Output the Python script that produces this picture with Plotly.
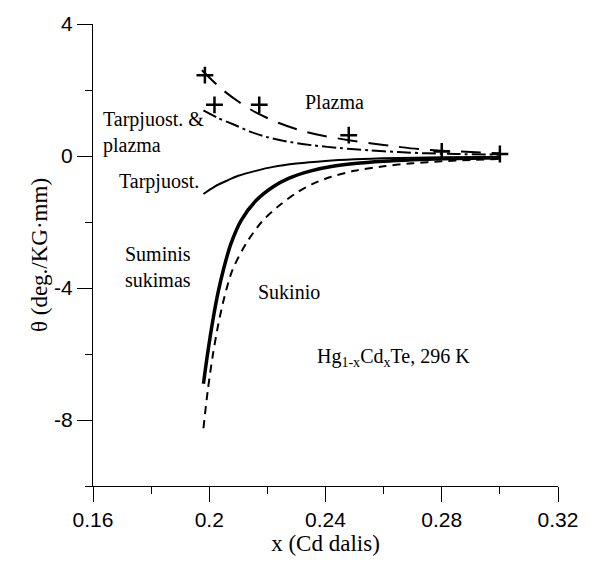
import plotly.graph_objects as go

# Faraday rotation components in Hg(1-x)Cd(x)Te at 296 K versus Cd fraction x
x_total = [0.198, 0.1995, 0.2012, 0.203, 0.205, 0.2075, 0.211, 0.2161, 0.222, 0.2275,
           0.235, 0.242, 0.25, 0.26, 0.27, 0.28, 0.29, 0.30]
theta_total = [-6.9, -5.95, -5.0, -4.15, -3.4, -2.65, -1.95, -1.35, -0.93, -0.67,
               -0.45, -0.32, -0.23, -0.16, -0.115, -0.085, -0.065, -0.05]

x_spin = [0.198, 0.1995, 0.2012, 0.203, 0.205, 0.208, 0.2127, 0.218, 0.2241, 0.2303,
          0.236, 0.242, 0.25, 0.26, 0.27, 0.28, 0.29, 0.30]
theta_spin = [-8.25, -7.1, -6.05, -5.15, -4.35, -3.45, -2.65, -2.0, -1.5, -1.1,
              -0.83, -0.63, -0.45, -0.31, -0.22, -0.16, -0.12, -0.09]

x_inter = [0.198, 0.202, 0.206, 0.210, 0.216, 0.222, 0.23, 0.24, 0.25, 0.26, 0.28, 0.30]
theta_inter = [-1.15, -0.92, -0.75, -0.6, -0.45, -0.33, -0.23, -0.15, -0.1, -0.07, -0.04, -0.03]

x_inter_plasma = [0.198, 0.203, 0.208, 0.214, 0.22, 0.228, 0.236, 0.245, 0.255, 0.265,
                  0.275, 0.285, 0.30]
theta_inter_plasma = [1.38, 1.15, 0.97, 0.74, 0.57, 0.42, 0.32, 0.24, 0.17, 0.12,
                      0.08, 0.06, 0.04]

x_plasma = [0.1975, 0.204, 0.210, 0.216, 0.224, 0.232, 0.240, 0.248, 0.256, 0.264,
            0.272, 0.28, 0.29, 0.30]
theta_plasma = [2.6, 2.05, 1.65, 1.32, 1.0, 0.76, 0.6, 0.48, 0.38, 0.29,
                0.21, 0.16, 0.12, 0.08]

# measured plasma points
x_meas = [0.1985, 0.2018, 0.2172, 0.248, 0.28, 0.30]
theta_meas = [2.45, 1.55, 1.55, 0.63, 0.14, 0.06]

fig = go.Figure()

fig.add_trace(go.Scatter(x=x_plasma, y=theta_plasma, mode="lines",
                         line=dict(color="black", width=2, dash="20px,11px",
                                   shape="spline", smoothing=0.8)))
fig.add_trace(go.Scatter(x=x_inter_plasma, y=theta_inter_plasma, mode="lines",
                         line=dict(color="black", width=2, dash="14px,4px,3px,4px",
                                   shape="spline", smoothing=0.8)))
fig.add_trace(go.Scatter(x=x_inter, y=theta_inter, mode="lines",
                         line=dict(color="black", width=2, shape="spline", smoothing=0.8)))
fig.add_trace(go.Scatter(x=x_spin, y=theta_spin, mode="lines",
                         line=dict(color="black", width=2, dash="8px,6px",
                                   shape="spline", smoothing=0.8)))
fig.add_trace(go.Scatter(x=x_total, y=theta_total, mode="lines",
                         line=dict(color="black", width=3.5, shape="spline", smoothing=0.8)))
fig.add_trace(go.Scatter(x=x_meas, y=theta_meas, mode="markers",
                         marker=dict(symbol="cross-thin", size=12, color="black",
                                     line=dict(color="black", width=2.5))))

serif = "Liberation Serif, Times New Roman, serif"
labels = [
    (0.2432, 1.65, "Plazma", "center"),
    (0.1627, 0.7, "Tarpjuost. &<br>plazma", "left"),
    (0.1684, -0.76, "Tarpjuost.", "left"),
    (0.1703, -3.37, "Suminis<br>sukimas", "left"),
    (0.2275, -4.12, "Sukinio", "center"),
    (0.2635, -6.12, "Hg<sub>1-x</sub>Cd<sub>x</sub>Te, 296 K", "center"),
]
for lx, ly, txt, anchor in labels:
    fig.add_annotation(x=lx, y=ly, text=txt, showarrow=False, xanchor=anchor,
                       yanchor="middle", align="left",
                       font=dict(family=serif, size=20, color="black"))

axis_common = dict(showline=True, linecolor="black", linewidth=1, ticks="outside",
                   ticklen=15, tickcolor="black", tickwidth=1, showgrid=False,
                   zeroline=False, mirror=False,
                   tickfont=dict(family="Liberation Sans, Arial, sans-serif", size=21,
                                 color="black"))

fig.update_xaxes(range=[0.16, 0.32], tickvals=[0.16, 0.2, 0.24, 0.28, 0.32],
                 ticktext=["0.16", "0.2", "0.24", "0.28", "0.32"],
                 minor=dict(tickvals=[0.18, 0.22, 0.26, 0.30], ticklen=7,
                            tickcolor="black", ticks="outside"),
                 title=dict(text="x (Cd dalis)", font=dict(family=serif, size=23, color="black"),
                            standoff=2),
                 **axis_common)
fig.update_yaxes(range=[-10, 4], tickvals=[4, 0, -4, -8],
                 ticktext=["4", "0", "-4", "-8"],
                 minor=dict(tickvals=[2, -2, -6, -10], ticklen=7,
                            tickcolor="black", ticks="outside"),
                 title=dict(text="θ (deg./KG·mm)", font=dict(family=serif, size=23, color="black"),
                            standoff=0),
                 **axis_common)

fig.update_layout(width=590, height=562, showlegend=False,
                  plot_bgcolor="white", paper_bgcolor="white",
                  margin=dict(l=93, r=30, t=19, b=76))

fig.write_html("out.html")
